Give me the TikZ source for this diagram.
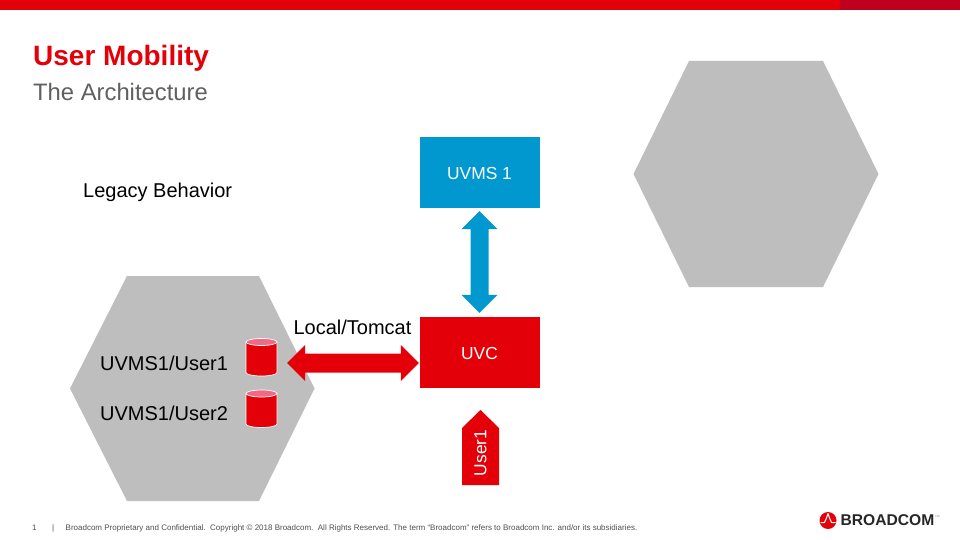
\documentclass[tikz,border=0pt]{standalone}
\usepackage{fontspec}
\setmainfont{Liberation Sans}
\usetikzlibrary{calc}
\definecolor{brred}{HTML}{E30009}
\definecolor{brdark}{HTML}{BE001E}
\definecolor{brblue}{HTML}{0098CE}
\definecolor{hexgray}{HTML}{BEBEBE}
\definecolor{cyltop}{HTML}{F06A85}
\definecolor{subgray}{HTML}{606060}
\definecolor{footgray}{HTML}{505050}
\tikzset{
  x=1pt,y=-1pt,
  hexshape/.style={fill=hexgray,draw=none},
  boxnode/.style={draw=none,minimum width=120pt,minimum height=71pt,inner sep=0pt,text=white,font=\fontsize{17.4}{19}\selectfont},
  lbl/.style={inner sep=0pt,font=\fontsize{20}{22}\selectfont},
  foot/.style={inner sep=0pt,anchor=west,text=footgray,font=\fontsize{8}{10}\selectfont},
  cylbody/.style={fill=brred,draw=white,line width=0.7pt},
  cyllid/.style={fill=cyltop,draw=white,line width=0.7pt}
}
\newcommand{\dbcylinder}[2]{% centre x, top y
  \path[cylbody] (#1-15.5,#2+3.5) -- (#1-15.5,#2+34) arc[start angle=180,end angle=360,x radius=15.5,y radius=-3.5] -- (#1+15.5,#2+3.5) -- cycle;
  \path[cyllid] (#1,#2+3.5) ellipse[x radius=15.5,y radius=3.5];
}
\begin{document}
\begin{tikzpicture}
\useasboundingbox (0,0) rectangle (960,540);
\fill[white] (0,0) rectangle (960,540);
\fill[brred] (0,0) rectangle (840,10.5);
\fill[brdark] (840,0) rectangle (960,10.5);
\node[inner sep=0pt,anchor=west,text=brred,font=\bfseries\fontsize{28}{30}\selectfont] (title) at (33,58.5) {User Mobility};
\node[inner sep=0pt,anchor=west,text=subgray,font=\fontsize{23.8}{26}\selectfont] (subtitle) at (33,91.5) {The Architecture};
\node[lbl,anchor=west] (legacy) at (83,192) {Legacy Behavior};
\fill[hexshape] (70,388.5) -- (127,276) -- (259,276) -- (314.5,388.5) -- (259,501) -- (127,501) -- cycle;
\fill[hexshape] (633.5,174) -- (689,61) -- (823,61) -- (878.5,174) -- (823,287) -- (689,287) -- cycle;
\node[boxnode,fill=brblue] (uvms) at (480,172.5) {};
\node[inner sep=0pt,text=white,font=\fontsize{17.4}{19}\selectfont] (uvmslabel) at (479.5,173.5) {UVMS 1};
\node[boxnode,fill=brred] (uvc) at (480,352.5) {};
\node[inner sep=0pt,text=white,font=\fontsize{17.4}{19}\selectfont] (uvclabel) at (479.5,353.5) {UVC};
% vertical double arrow between the boxes
\coordinate (vt) at ($(uvms.south)+(-0.5,3)$);
\coordinate (vb) at ($(uvc.north)+(-0.5,-4)$);
\fill[brblue] (vt) -- ++(18,18) -- ++(-9,0) -- ($(vb)+(9,-18)$) -- ++(9,0) -- (vb) -- ++(-18,-18) -- ++(9,0) -- ($(vt)+(-9,18)$) -- ++(-9,0) -- cycle;
% horizontal double arrow
\coordinate (hl) at (287,363);
\coordinate (hr) at ($(uvc.west)+(-1,10.5)$);
\fill[brred] (hl) -- ++(18,-18) -- ++(0,8.5) -- ($(hr)+(-18,-9.5)$) -- ++(0,-8.5) -- (hr) -- ++(-18,18) -- ++(0,-8.5) -- ($(hl)+(18,9.5)$) -- ++(0,8.5) -- cycle;
\node[lbl,anchor=center] (local) at (352.5,327) {Local/Tomcat};
\node[lbl,anchor=west] (u1) at (100,363) {UVMS1/User1};
\node[lbl,anchor=west] (u2) at (100,413) {UVMS1/User2};
\dbcylinder{261.5}{338.5}
\dbcylinder{261.5}{390}
\fill[brred] (480.5,410) -- (499,428) -- (499,485) -- (462,485) -- (462,428) -- cycle;
\node[inner sep=0pt,rotate=90,text=white,font=\fontsize{17.4}{19}\selectfont] (user) at (480.5,453) {User1};
\node[foot] (pg) at (32,528) {1};
\node[foot] (sep) at (52,528) {|};
\node[foot] (legal) at (65.5,528) {Broadcom Proprietary and Confidential.\ \ Copyright © 2018 Broadcom.\ \ All Rights Reserved. The term “Broadcom” refers to Broadcom Inc. and/or its subsidiaries.};
% logo
\fill[brred] (828,520.5) circle (8.5);
\draw[white,line width=1pt,line join=round] (820.5,522.5) -- (824.5,522.5) -- (826.5,518) -- (828,513.5) -- (829.5,518) -- (831.5,522.5) -- (835.5,522.5);
\node[inner sep=0pt,anchor=west,text=black!85,font=\bfseries\fontsize{15.6}{17}\selectfont] (logo) at (840.5,520.5) {BROADCOM};
\node[inner sep=0pt,anchor=west,text=gray,font=\fontsize{3}{4}\selectfont] (tm) at (935,516.5) {TM};
\end{tikzpicture}
\end{document}
